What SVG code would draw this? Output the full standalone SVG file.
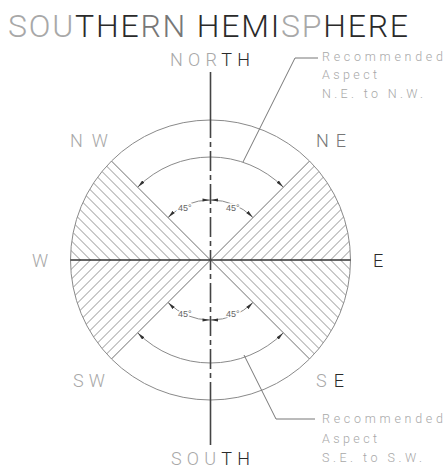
<svg xmlns="http://www.w3.org/2000/svg" width="448" height="470" viewBox="0 0 448 470">
  <style>
    .t { font-family: Roboto, "Liberation Sans", sans-serif; font-weight: 300; }
    .lt { fill: #a8a8a8; }
    .dk { fill: #2a2a2a; }
    .md { fill: #777; }
    .thin { fill: none; stroke: #8a8a8a; stroke-width: 1; }
    .arr { fill: none; stroke: #8a8a8a; stroke-width: 1; marker-start: url(#ah); marker-end: url(#ah); }
    .deg { font-family: "Liberation Sans", sans-serif; font-size: 9px; fill: #666; stroke: #fff; stroke-width: 3; paint-order: stroke; }
  </style>
  <defs>
    <marker id="ah" viewBox="0 0 8 4" refX="8" refY="2" markerWidth="8" markerHeight="4" markerUnits="userSpaceOnUse" orient="auto-start-reverse">
      <path d="M0,0.4 L8,2 L0,3.6 Z" fill="#333"/>
    </marker>
    <pattern id="hb" patternUnits="userSpaceOnUse" x="210.5" y="260" width="10" height="10">
      <path d="M-1,-1 L11,11 M-1,9 L1,11 M9,-1 L11,1" stroke="#8a8a8a" stroke-width="0.9"/>
    </pattern>
    <pattern id="hf" patternUnits="userSpaceOnUse" x="210.5" y="260" width="10" height="10">
      <path d="M-1,11 L11,-1 M-1,1 L1,-1 M9,11 L11,9" stroke="#8a8a8a" stroke-width="0.9"/>
    </pattern>
  </defs>
  <rect width="448" height="470" fill="#fff"/>

  <g id="title">
    <text class="t" x="8" y="37" font-size="32" textLength="400" lengthAdjust="spacing"><tspan class="lt">SOU</tspan><tspan class="dk">THE</tspan><tspan class="md">RN </tspan><tspan class="dk">HEMI</tspan><tspan class="lt">SP</tspan><tspan class="dk">HERE</tspan></text>
  </g>

  <g id="compass">
    <circle cx="210.5" cy="260" r="140" class="thin"/>
    <path d="M210.5 260 L111.5 161 A140 140 0 0 0 70.5 260 Z" fill="url(#hb)"/>
    <path d="M210.5 260 L309.5 161 A140 140 0 0 1 350.5 260 Z" fill="url(#hf)"/>
    <path d="M210.5 260 L70.5 260 A140 140 0 0 0 111.5 359 Z" fill="url(#hf)"/>
    <path d="M210.5 260 L309.5 359 A140 140 0 0 0 350.5 260 Z" fill="url(#hb)"/>
    <path d="M111.5 161 L309.5 359 M309.5 161 L111.5 359" class="thin"/>
  </g>

  <g id="angles">
    <path class="arr" d="M137.67 187.17 A103 103 0 0 1 283.33 187.17"/>
    <path class="arr" d="M137.67 332.83 A103 103 0 0 0 283.33 332.83"/>
    <path class="arr" d="M168.07 217.57 A60 60 0 0 1 210.5 200"/>
    <path class="arr" d="M210.5 200 A60 60 0 0 1 252.93 217.57"/>
    <path class="arr" d="M168.07 302.43 A60 60 0 0 0 210.5 320"/>
    <path class="arr" d="M210.5 320 A60 60 0 0 0 252.93 302.43"/>
    <text class="deg" x="178" y="211">45°</text>
    <text class="deg" x="226" y="211">45°</text>
    <text class="deg" x="178" y="317">45°</text>
    <text class="deg" x="226" y="317">45°</text>
  </g>

  <g id="axes">
    <line x1="70.5" y1="260" x2="350.5" y2="260" stroke="#333" stroke-width="1.5"/>
    <line x1="210.5" y1="72" x2="210.5" y2="118" stroke="#444" stroke-width="1.6"/>
    <line x1="210.5" y1="118" x2="210.5" y2="402" stroke="#444" stroke-width="1.6" stroke-dasharray="20 4 5 4"/>
    <line x1="210.5" y1="402" x2="210.5" y2="445" stroke="#444" stroke-width="1.6"/>
  </g>

  <g id="connectors">
    <polyline points="318,58 295,58 243,162" fill="none" stroke="#777" stroke-width="1"/>
    <polyline points="244,355 276,419 315,419" fill="none" stroke="#777" stroke-width="1"/>
  </g>

  <g id="labels" class="t" font-size="18">
    <text x="170" y="66" textLength="80" lengthAdjust="spacing"><tspan class="lt">NOR</tspan><tspan class="dk">TH</tspan></text>
    <text x="171" y="465" textLength="79" lengthAdjust="spacing"><tspan class="lt">SOU</tspan><tspan class="dk">TH</tspan></text>
    <text class="lt" x="70" y="147" textLength="38" lengthAdjust="spacing">NW</text>
    <text class="md" x="316" y="147" textLength="30" lengthAdjust="spacing">NE</text>
    <text class="lt" x="73" y="387" textLength="32" lengthAdjust="spacing">SW</text>
    <text x="316" y="387" textLength="28" lengthAdjust="spacing"><tspan class="lt">S</tspan><tspan class="dk">E</tspan></text>
    <text class="lt" x="32" y="267" textLength="16" lengthAdjust="spacing">W</text>
    <text class="dk" x="373" y="267" textLength="13" lengthAdjust="spacing">E</text>
  </g>

  <g id="note-north" class="t" font-size="12.5">
    <text class="lt" x="322" y="61" textLength="121" lengthAdjust="spacing">Recommended</text>
    <text class="lt" x="322" y="79" textLength="55" lengthAdjust="spacing">Aspect</text>
    <text class="lt" x="322" y="98" textLength="101" lengthAdjust="spacing">N.E. to N.W.</text>
  </g>
  <g id="note-south" class="t" font-size="12.5">
    <text class="lt" x="322" y="423" textLength="121" lengthAdjust="spacing">Recommended</text>
    <text class="lt" x="322" y="443" textLength="55" lengthAdjust="spacing">Aspect</text>
    <text class="lt" x="322" y="462" textLength="100" lengthAdjust="spacing">S.E. to S.W.</text>
  </g>
</svg>
